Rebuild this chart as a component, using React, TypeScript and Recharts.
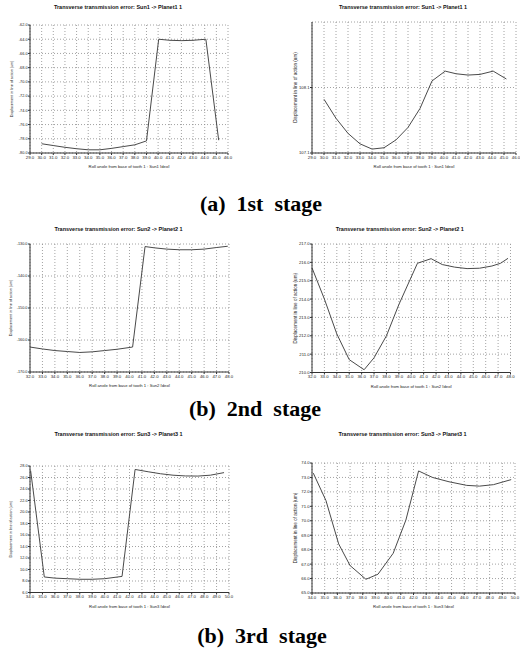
import React from 'react';
import { LineChart, Line, XAxis, YAxis, CartesianGrid, Label } from 'recharts';

// 1st stage, left and right plots
const s1LeftAngle = [30, 31, 32, 33, 34, 35, 36, 37, 38, 39, 40.05, 41, 42, 43, 44.1, 45.2];
const s1LeftDisp = [-78.7, -78.95, -79.2, -79.4, -79.55, -79.55, -79.35, -79.1, -78.85, -78.3, -64.0, -64.15, -64.2, -64.15, -64.0, -78.2];
const s1RightAngle = [30, 31, 32, 33, 34, 35, 36, 37, 38, 39, 40.1, 41, 42, 43, 44.1, 45.2];
const s1RightDisp = [107.92, 107.63, 107.4, 107.24, 107.16, 107.18, 107.3, 107.49, 107.78, 108.2, 108.35, 108.31, 108.29, 108.3, 108.35, 108.23];

// 2nd stage
const s2LeftAngle = [32, 33, 34, 35, 36, 37, 38, 39, 40.25, 41.25, 42, 43, 44, 45, 46, 47, 47.9];
const s2LeftDisp = [-162.2, -162.8, -163.3, -163.6, -163.9, -163.7, -163.3, -162.9, -162.2, -130.8, -131.2, -131.6, -131.8, -131.8, -131.6, -131.1, -130.7];
const s2RightAngle = [32, 33, 34, 35, 36.2, 37, 38, 39, 40.5, 41.6, 42.5, 43.5, 44.5, 45.5, 46.5, 47.2, 47.8];
const s2RightDisp = [215.7, 214.0, 212.1, 210.7, 210.15, 210.8, 212.0, 213.7, 215.95, 216.2, 215.88, 215.74, 215.66, 215.68, 215.8, 215.95, 216.22];

// 3rd stage
const s3LeftAngle = [34.05, 35.15, 36, 37, 38, 39, 40, 41.4, 42.45, 43.5, 44.5, 45.5, 46.5, 47.5, 48.5, 49.6];
const s3LeftDisp = [27.2, 8.7, 8.5, 8.4, 8.3, 8.3, 8.4, 8.8, 27.4, 27.0, 26.65, 26.4, 26.27, 26.25, 26.4, 26.85];
const s3RightAngle = [34.1, 35.1, 36.1, 37.0, 38.25, 39.2, 40.4, 41.4, 42.4, 43.5, 44.8, 46.2, 47.2, 48.3, 49.7];
const s3RightDisp = [73.3, 71.4, 68.4, 66.9, 65.95, 66.3, 67.75, 70.05, 73.45, 73.0, 72.7, 72.45, 72.4, 72.5, 72.85];

// tick labels
const ticksX1 = [29, 30, 31, 32, 33, 34, 35, 36, 37, 38, 39, 40, 41, 42, 43, 44, 45, 46];
const ticksX2 = [32, 33, 34, 35, 36, 37, 38, 39, 40, 41, 42, 43, 44, 45, 46, 47, 48];
const ticksX3 = [34, 35, 36, 37, 38, 39, 40, 41, 42, 43, 44, 45, 46, 47, 48, 49, 50];
const ticksY1L = [-80, -78, -76, -74, -72, -70, -68, -66, -64, -62];
const ticksY1R = [107.1, 108.1];
const ticksY2L = [-170, -160, -150, -140, -130];
const ticksY2R = [210, 211, 212, 213, 214, 215, 216, 217];
const ticksY3L = [6, 8, 10, 12, 14, 16, 18, 20, 22, 24, 26, 28];
const ticksY3R = [65, 66, 67, 68, 69, 70, 71, 72, 73, 74];

const FONT = '"Liberation Sans", Arial, sans-serif';
const SERIF = '"Liberation Serif", "Times New Roman", serif';
const Y_TITLE = 'Displacement in line of action (um)';

const zip = (xs: number[], ys: number[]) => xs.map((x, i) => ({ x, y: ys[i] }));
const fmt = (v: number) => v.toFixed(1);

type Box = { x0: number; x1: number; y0: number; y1: number };

type PanelProps = {
  box: Box;
  data: { x: number; y: number }[];
  xTicks: number[];
  yTicks: number[];
  yDomain: [number, number];
  yw: number;
  yLabelX: number;
  yLabelSize: number;
  yTickSize: number;
  title: string;
  titleY: number;
  xLabel: string;
};

const Panel = ({ box, data, xTicks, yTicks, yDomain, yw, yLabelX, yLabelSize, yTickSize, title, titleY, xLabel }: PanelProps) => {
  const mt = 4;
  const mr = 8;
  const xh = 15;
  const w = box.x1 - box.x0 + yw + mr;
  const h = box.y1 - box.y0 + mt + xh;
  const left = box.x0 - yw;
  const cx = (box.x0 + box.x1) / 2 - 11;
  return (
    <>
      <div
        style={{
          position: 'absolute', left: cx - 100, top: titleY - 2.6, width: 200, textAlign: 'center',
          fontFamily: FONT, fontSize: 5.5, fontWeight: 'bold', lineHeight: '5.5px', whiteSpace: 'nowrap', color: '#111',
        }}
      >
        {title}
      </div>
      <div style={{ position: 'absolute', left, top: box.y0 - mt }}>
        <LineChart width={w} height={h} data={data} margin={{ top: mt, right: mr, bottom: 0, left: 0 }}>
          <CartesianGrid stroke="#8c8c8c" strokeDasharray="1 2" strokeWidth={0.8} />
          <XAxis
            type="number"
            dataKey="x"
            domain={[xTicks[0], xTicks[xTicks.length - 1]]}
            ticks={xTicks}
            interval={0}
            height={xh}
            tickSize={2}
            tickMargin={0.5}
            tickFormatter={fmt}
            tick={{ fontSize: 4.3, fill: '#222', fontFamily: FONT }}
            stroke="#333"
          >
            <Label value={xLabel} position="insideBottom" offset={0} style={{ fontSize: 4.2, fill: '#222', fontFamily: FONT }} />
          </XAxis>
          <YAxis
            type="number"
            domain={yDomain}
            ticks={yTicks}
            interval={0}
            width={yw}
            tickSize={2}
            tickMargin={0.5}
            tickFormatter={fmt}
            tick={{ fontSize: yTickSize, fill: '#222', fontFamily: FONT }}
            stroke="#333"
          >
            <Label
              value={Y_TITLE}
              angle={-90}
              position="insideLeft"
              offset={yLabelX - left}
              style={{ textAnchor: 'middle', fontSize: yLabelSize, fill: '#222', fontFamily: FONT }}
            />
          </YAxis>
          <Line type="linear" dataKey="y" stroke="#4a4a4a" strokeWidth={1} dot={false} isAnimationActive={false} />
        </LineChart>
      </div>
    </>
  );
};

const Caption = ({ text, top, cx }: { text: string; top: number; cx: number }) => (
  <div
    style={{
      position: 'absolute', left: cx - 150, top, width: 300, textAlign: 'center',
      fontFamily: SERIF, fontWeight: 'bold', fontSize: 22, lineHeight: '22px', whiteSpace: 'pre', color: '#000',
    }}
  >
    {text}
  </div>
);

export default function App() {
  return (
    <div style={{ position: 'absolute', left: 0, top: 0, width: 520, height: 656, background: '#fff', overflow: 'hidden' }}>
      <Panel
        box={{ x0: 30, x1: 228, y0: 25, y1: 153 }}
        data={zip(s1LeftAngle, s1LeftDisp)}
        xTicks={ticksX1} yTicks={ticksY1L} yDomain={[-80, -62]}
        yw={30} yLabelX={12} yLabelSize={3.7} yTickSize={3.8}
        title="Transverse transmission error: Sun1 -> Planet1 1" titleY={8}
        xLabel="Roll angle from base of tooth 1 : Sun1 [deg]"
      />
      <Panel
        box={{ x0: 312, x1: 516, y0: 22, y1: 153 }}
        data={zip(s1RightAngle, s1RightDisp)}
        xTicks={ticksX1} yTicks={ticksY1R} yDomain={[107.1, 109.1]}
        yw={24} yLabelX={295} yLabelSize={4.6} yTickSize={4.2}
        title="Transverse transmission error: Sun1 -> Planet1 1" titleY={8}
        xLabel="Roll angle from base of tooth 1 : Sun1 [deg]"
      />
      <Caption text="(a)  1st  stage" top={192.5} cx={261} />

      <Panel
        box={{ x0: 30, x1: 229, y0: 244, y1: 372 }}
        data={zip(s2LeftAngle, s2LeftDisp)}
        xTicks={ticksX2} yTicks={ticksY2L} yDomain={[-170, -130]}
        yw={30} yLabelX={11} yLabelSize={3.7} yTickSize={3.8}
        title="Transverse transmission error: Sun2 -> Planet2 1" titleY={230}
        xLabel="Roll angle from base of tooth 1 : Sun2 [deg]"
      />
      <Panel
        box={{ x0: 311.5, x1: 510, y0: 244, y1: 372.5 }}
        data={zip(s2RightAngle, s2RightDisp)}
        xTicks={ticksX2} yTicks={ticksY2R} yDomain={[210, 217]}
        yw={24} yLabelX={295} yLabelSize={4.6} yTickSize={4.2}
        title="Transverse transmission error: Sun2 -> Planet2 1" titleY={230}
        xLabel="Roll angle from base of tooth 1 : Sun2 [deg]"
      />
      <Caption text="(b)  2nd  stage" top={398} cx={255} />

      <Panel
        box={{ x0: 30, x1: 229, y0: 466, y1: 592.5 }}
        data={zip(s3LeftAngle, s3LeftDisp)}
        xTicks={ticksX3} yTicks={ticksY3L} yDomain={[6, 28]}
        yw={30} yLabelX={11} yLabelSize={3.7} yTickSize={3.8}
        title="Transverse transmission error: Sun3 -> Planet3 1" titleY={435}
        xLabel="Roll angle from base of tooth 1 : Sun3 [deg]"
      />
      <Panel
        box={{ x0: 312, x1: 515, y0: 463, y1: 593 }}
        data={zip(s3RightAngle, s3RightDisp)}
        xTicks={ticksX3} yTicks={ticksY3R} yDomain={[65, 74]}
        yw={24} yLabelX={295} yLabelSize={4.6} yTickSize={4.2}
        title="Transverse transmission error: Sun3 -> Planet3 1" titleY={435}
        xLabel="Roll angle from base of tooth 1 : Sun3 [deg]"
      />
      <Caption text="(b)  3rd  stage" top={625} cx={262} />
    </div>
  );
}
